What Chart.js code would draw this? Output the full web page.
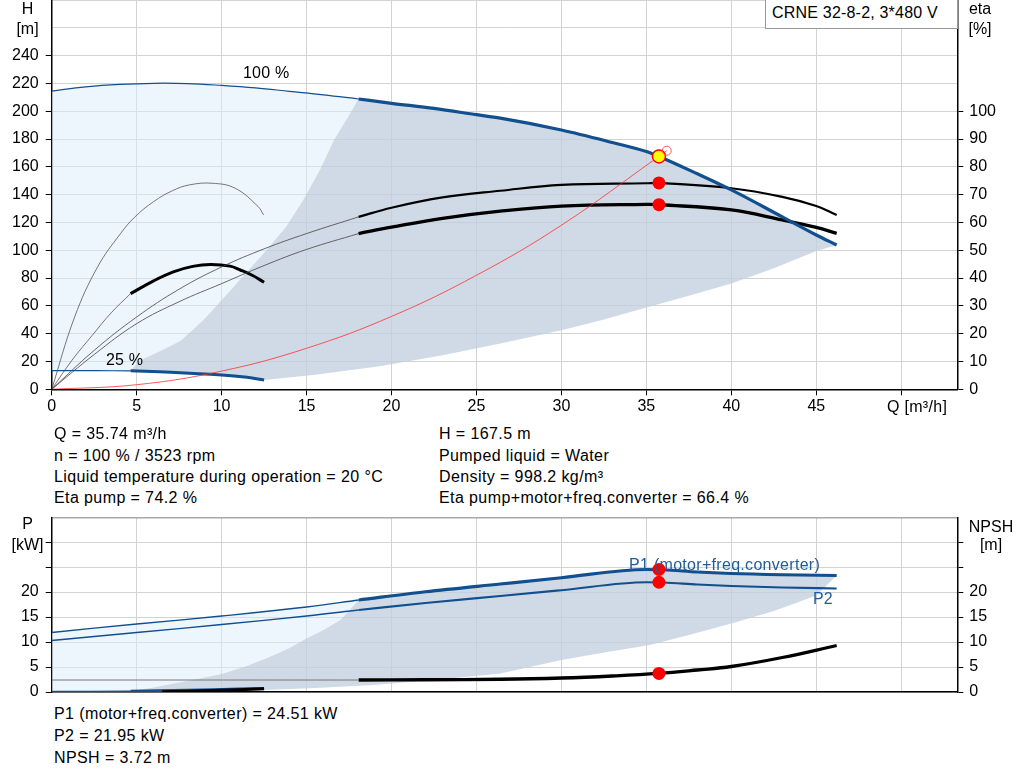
<!DOCTYPE html>
<html>
<head>
<meta charset="utf-8">
<script src="https://cdn.jsdelivr.net/npm/chart.js@4.4.1/dist/chart.umd.min.js"></script>
<style>
  body { margin: 0; background: #fff; width: 1024px; height: 781px; overflow: hidden; position: relative; font-family: Arial, "Liberation Sans", sans-serif; }
  .t { position: absolute; font-size: 16px; line-height: 16px; white-space: nowrap; color: #000; letter-spacing: 0.4px; }
  .c { transform: translateX(-50%); letter-spacing: 0; }
  #top, #bot { position: absolute; left: 0; }
  #top { top: 0; }
  #bot { top: 517px; }
  .box { position: absolute; left: 765px; top: -1px; width: 191px; height: 28px; border: 1px solid #999; background: #fff; }
</style>
</head>
<body>
<canvas id="top" width="1024" height="421"></canvas>
<canvas id="bot" width="1024" height="183"></canvas>

<div class="box"></div>
<div class="t" style="left:772px;top:5px;letter-spacing:0.2px">CRNE 32-8-2, 3*480 V</div>

<div class="t c" style="left:27.5px;top:1px">H</div>
<div class="t c" style="left:27.5px;top:21px">[m]</div>
<div class="t c" style="left:980px;top:1px">eta</div>
<div class="t c" style="left:980px;top:21px">[%]</div>
<div class="t" style="left:243px;top:65px;letter-spacing:0.2px">100 %</div>
<div class="t" style="left:106px;top:352px;letter-spacing:0.2px">25 %</div>
<div class="t" style="left:887px;top:399px;letter-spacing:0.3px">Q [m³/h]</div>

<div class="t" style="left:54px;top:426px">Q = 35.74 m³/h</div>
<div class="t" style="left:54px;top:448px">n = 100 % / 3523 rpm</div>
<div class="t" style="left:54px;top:469px">Liquid temperature during operation = 20 °C</div>
<div class="t" style="left:54px;top:490px">Eta pump = 74.2 %</div>
<div class="t" style="left:439px;top:426px">H = 167.5 m</div>
<div class="t" style="left:439px;top:448px">Pumped liquid = Water</div>
<div class="t" style="left:439px;top:469px">Density = 998.2 kg/m³</div>
<div class="t" style="left:439px;top:490px">Eta pump+motor+freq.converter = 66.4 %</div>

<div class="t c" style="left:27.5px;top:516px">P</div>
<div class="t c" style="left:27.5px;top:537px">[kW]</div>
<div class="t c" style="left:991px;top:519px">NPSH</div>
<div class="t c" style="left:991px;top:537px">[m]</div>
<div class="t" style="left:629px;top:557px;color:#1f5c9c;letter-spacing:0.3px">P1 (motor+freq.converter)</div>
<div class="t" style="left:813px;top:591px;color:#1f5c9c;letter-spacing:0.2px">P2</div>

<div class="t" style="left:54px;top:706px">P1 (motor+freq.converter) = 24.51 kW</div>
<div class="t" style="left:54px;top:728px">P2 = 21.95 kW</div>
<div class="t" style="left:54px;top:750px">NPSH = 3.72 m</div>

<script>
// ---- top diagram: Q-H at 100 % and 25 % speed ----
const q100Thin = [0, 2, 4, 6, 8, 10, 12, 14, 16, 18.06];
const h100Thin = [214.5, 217.5, 219.3, 220.1, 219.9, 218.6, 216.8, 214.3, 211.8, 208.8];
const q100 = [18.06, 20, 22.5, 25, 26.4, 30, 33, 35, 35.74, 38, 40, 43, 45, 46.2];
const h100 = [208.8, 205.7, 202, 197.5, 195, 186.5, 177.5, 171, 167.5, 155, 143.4, 124, 111, 103.8];

const q25Thin = [0, 2.5, 4.64];
const h25Thin = [13.4, 13.4, 13.3];
const q25 = [4.64, 7, 10, 11.5, 12.5];
const h25 = [13.3, 12.3, 10.3, 8.6, 6.7];

// edges of the recommended (dark) area
const qEdgeLeft = [4.64, 5.2, 6.5, 7.6, 8.95, 10, 11.1, 12.6, 13.8, 14.8, 15.8, 16.6, 17.4, 18.06];
const hEdgeLeft = [13.3, 20.8, 28, 35, 50, 64, 79, 99.5, 117, 136, 158, 179, 195, 208.8];
const qEdgeLow = [12.5, 15.5, 19.3, 23, 26.4, 30, 32.5, 35, 37.5, 40, 42.5, 45, 46.2];
const hEdgeLow = [6.7, 10.5, 16.5, 24.5, 33, 42.4, 50.2, 58.9, 67.2, 76.1, 87, 99.5, 103.8];

// system curve
const qSys = [0, 5, 10, 15, 20, 25, 30, 35.74, 36.2];
const hSys = [0, 3.3, 13.1, 29.5, 52.4, 82, 118, 167.5, 171.6];

// efficiency, 100 % speed
const qEtaThin = [0, 2.5, 5, 7.5, 10, 12.5, 15, 18.06];
const etaPumpThin = [0, 14, 26, 36, 44, 50.5, 56, 62];
const etaTotThin = [0, 12.5, 23.6, 31.5, 38, 44.5, 50.3, 56];
const qEta = [18.06, 20, 23, 26.4, 30, 35, 35.74, 40, 43, 45, 46.2];
const etaPump = [62, 65.3, 69, 71.4, 73.5, 74.1, 74.2, 72.3, 69.2, 65.9, 62.7];
const etaTot = [56, 58.3, 61.5, 64.1, 65.9, 66.5, 66.4, 64.5, 60.9, 58.2, 56.1];

// efficiency, 25 % speed
const qEtaLow = [0, 1.35, 2.7, 4.05, 4.9, 6, 7.1, 8.1, 9.45, 10.8, 12.15, 12.47];
const etaPumpLow = [0, 26, 44, 56, 62, 67.5, 71.4, 73.5, 74.1, 72.3, 65.7, 62.7];
const qEtaTotLowThin = [0, 1.2, 2.4, 3.5, 4.64];
const etaTotLowThin = [0, 10.5, 19.5, 27.5, 34.4];
const qEtaTotLow = [4.64, 6, 7.2, 8.3, 9.34, 10.5, 11.1, 11.8, 12.5];
const etaTotLow = [34.4, 39, 42.3, 44.2, 44.9, 44.3, 42.9, 41, 38.5];

// duty point
const dutyQ = 35.74, dutyH = 167.5, dutyEtaPump = 74.2, dutyEtaTot = 66.4;

// ---- bottom diagram: power and NPSH ----
const qPThin = [0, 5, 10, 15, 18.07];
const p1Thin = [11.9, 13.6, 15.2, 17.0, 18.4];
const p2Thin = [10.3, 11.9, 13.5, 15.2, 16.4];
const qP = [18.07, 22, 26.4, 30, 35, 36, 38, 40, 43, 46.2];
const p1 = [18.4, 20.05, 21.6, 22.85, 24.5, 24.45, 24.0, 23.7, 23.45, 23.3];
const p2 = [16.4, 17.8, 19.2, 20.35, 21.95, 21.9, 21.5, 21.2, 20.9, 20.7];

const qNpshThin = [0, 18.07];
const npshThin = [2.4, 2.4];
const qNpsh = [18.07, 22, 26.4, 30, 33, 35.74, 38, 40, 43, 46.2];
const npsh = [2.4, 2.45, 2.55, 2.8, 3.2, 3.72, 4.4, 5.1, 6.9, 9.3];

const qPLowThin = [0, 4.64];
const pLowThin = [0.1, 0.15];
const qPLow = [4.64, 8, 11, 12.5];
const pLow = [0.15, 0.35, 0.6, 0.7];
const qPLowBlack = [6.5, 9.5, 12.5];
const pLowBlack = [0.05, 0.3, 0.65];

const qPEdgeLeft = [4.64, 6, 7.2, 8.6, 10, 11.5, 12.9, 14, 15, 16, 17, 18.07];
const pEdgeLeft = [0.15, 0.9, 1.7, 2.6, 3.6, 5.2, 7.1, 8.8, 10.7, 12.4, 14.4, 18.4];
const qPEdgeLow = [12.5, 15.5, 18.9, 22.5, 26.4, 30, 32.5, 35.2, 37.5, 40, 42.5, 45, 46.2];
const pEdgeLow = [0.4, 0.8, 1.4, 2.4, 3.7, 6.4, 7.9, 9.4, 11.4, 13.7, 16.2, 19.3, 23.3];

const dutyP1 = 24.51, dutyP2 = 21.95, dutyNpsh = 3.72;

// tick labels shown
const hTickMax = 240, etaTickMax = 100, qTickMax = 45, pTickMax = 20;

const BLUE = '#114f8e';
const LIGHT = 'rgba(221,237,251,0.5)';
const DARK = 'rgba(178,192,207,0.5)';
const GRID = '#d3d3d3';

function pts(xs, ys) {
    return xs.map((x, i) => ({x: x, y: ys[i]}));
}
function rev(xs, ys) {
    return pts(xs, ys).reverse();
}
// smooth curve (kinked = keep corners, monotone spline)
function line(data, color, width, axis, kinked) {
    const ds = {
        data: data, borderColor: color, borderWidth: width, pointRadius: 0,
        fill: false, tension: 0.4, yAxisID: axis || 'y'
    };
    if (kinked) ds.cubicInterpolationMode = 'monotone';
    return ds;
}
function area(data, color) {
    return {
        data: data, backgroundColor: color, borderColor: 'rgba(0,0,0,0)', borderWidth: 0,
        pointRadius: 0, fill: 'shape', tension: 0, yAxisID: 'y'
    };
}
function dot(x, y, axis, bg, border, r, bw) {
    return {
        data: [{x: x, y: y}], showLine: false, pointRadius: r, pointHoverRadius: r,
        pointBackgroundColor: bg, pointBorderColor: border, pointBorderWidth: bw, yAxisID: axis
    };
}
function hiddenTick(limit) {
    return ctx => (ctx.tick && ctx.tick.value > limit) ? 'rgba(0,0,0,0)' : '#000';
}

Chart.defaults.font.family = 'Arial, "Liberation Sans", sans-serif';
Chart.defaults.font.size = 16;
Chart.defaults.color = '#000';

// polygons for the shaded areas
const lightTop = pts(q100Thin, h100Thin).concat(pts(q100, h100), rev(qEdgeLow, hEdgeLow), rev(q25, h25), rev(q25Thin, h25Thin));
const darkTop = pts(q100, h100).concat(rev(qEdgeLow, hEdgeLow), rev(q25, h25), pts(qEdgeLeft, hEdgeLeft));
const lightBot = pts(qPThin, p1Thin).concat(pts(qP, p1), rev(qPEdgeLow, pEdgeLow), [{x: 0, y: 0}]);
const darkBot = pts(qP, p1).concat(rev(qPEdgeLow, pEdgeLow), pts(qPEdgeLeft, pEdgeLeft));

function fitY(w) {
    return s => { s.width = w; s.paddingTop = 0; s.paddingBottom = 0; };
}
function fitX(h) {
    return s => { s.height = h; s.paddingLeft = 0; s.paddingRight = 0; };
}

new Chart(document.getElementById('top'), {
    type: 'line',
    data: {
        datasets: [
            dot(36.2, 171.6, 'y', 'rgba(0,0,0,0)', '#ff5a5a', 4.5, 1),
            dot(dutyQ, dutyH, 'y', '#ffff00', '#ff0000', 6.5, 1.5),
            dot(dutyQ, dutyEtaPump, 'y2', '#ff0000', '#ff0000', 6.5, 0),
            dot(dutyQ, dutyEtaTot, 'y2', '#ff0000', '#ff0000', 6.5, 0),
            line(pts(qSys, hSys), '#ff3030', 0.8),
            line(pts(q100, h100), BLUE, 3.2, 'y', true),
            line(pts(q100Thin, h100Thin), BLUE, 1.2),
            line(pts(q25, h25), BLUE, 3),
            line(pts(q25Thin, h25Thin), BLUE, 1.2),
            line(pts(qEta, etaPump), '#000', 2.2, 'y2'),
            line(pts(qEta, etaTot), '#000', 3.3, 'y2'),
            line(pts(qEtaThin, etaPumpThin), '#444', 0.8, 'y2'),
            line(pts(qEtaThin, etaTotThin), '#444', 0.8, 'y2'),
            line(pts(qEtaLow, etaPumpLow), '#555', 0.8, 'y2'),
            line(pts(qEtaTotLow, etaTotLow), '#000', 3, 'y2'),
            line(pts(qEtaTotLowThin, etaTotLowThin), '#555', 0.8, 'y2'),
            area(darkTop, DARK),
            area(lightTop, LIGHT)
        ]
    },
    options: {
        responsive: false,
        animation: false,
        events: [],
        layout: { padding: 0, autoPadding: false },
        plugins: { legend: { display: false }, tooltip: { enabled: false } },
        scales: {
            x: {
                type: 'linear', min: 0, max: 53.3,
                ticks: { stepSize: 5, autoSkip: false, maxRotation: 0, includeBounds: false, padding: 2,
                    callback: v => v <= qTickMax ? v : '' },
                grid: { color: GRID, tickColor: '#000', tickLength: 6 },
                border: { color: '#000', width: 1.5 },
                afterFit: fitX(31.7)
            },
            y: {
                min: 0, max: 280,
                ticks: { stepSize: 20, autoSkip: false, padding: 7, callback: v => v <= hTickMax ? v : '' },
                grid: { color: GRID, tickColor: hiddenTick(hTickMax), tickLength: 6 },
                border: { color: '#000', width: 1.5 },
                afterFit: fitY(51.7)
            },
            y2: {
                position: 'right', min: 0, max: 140,
                ticks: { stepSize: 10, autoSkip: false, padding: 6, callback: v => v <= etaTickMax ? v : '' },
                grid: { drawOnChartArea: false, tickColor: hiddenTick(etaTickMax), tickLength: 6 },
                border: { color: '#000', width: 1.5 },
                afterFit: fitY(66.7)
            }
        }
    }
});

new Chart(document.getElementById('bot'), {
    type: 'line',
    data: {
        datasets: [
            dot(dutyQ, dutyP1, 'y', '#ff0000', '#ff0000', 6.5, 0),
            dot(dutyQ, dutyP2, 'y', '#ff0000', '#ff0000', 6.5, 0),
            dot(dutyQ, dutyNpsh, 'y2', '#ff0000', '#ff0000', 6.5, 0),
            line(pts(qP, p1), BLUE, 3.2, 'y', true),
            line(pts(qP, p2), BLUE, 2.2, 'y', true),
            line(pts(qPThin, p1Thin), BLUE, 1.3),
            line(pts(qPThin, p2Thin), BLUE, 1.3),
            line(pts(qNpsh, npsh), '#000', 3.3, 'y2'),
            line(pts(qNpshThin, npshThin), '#777', 1, 'y2'),
            line(pts(qPLowBlack, pLowBlack), '#000', 3),
            line(pts(qPLow, pLow), BLUE, 3),
            line(pts(qPLowThin, pLowThin), BLUE, 1.3),
            area(darkBot, DARK),
            area(lightBot, LIGHT)
        ]
    },
    options: {
        responsive: false,
        animation: false,
        events: [],
        layout: { padding: 0, autoPadding: false },
        plugins: { legend: { display: false }, tooltip: { enabled: false } },
        scales: {
            x: {
                type: 'linear', min: 0, max: 53.3,
                ticks: { stepSize: 5, display: false, includeBounds: false },
                grid: { color: GRID, drawTicks: false },
                border: { color: '#000', width: 1.5 },
                afterFit: fitX(8)
            },
            y: {
                min: 0, max: 35,
                ticks: { stepSize: 5, autoSkip: false, padding: 7, callback: v => v <= pTickMax ? v : '' },
                grid: {
                    color: ctx => (ctx.tick && ctx.tick.value === 35) ? '#a8a8a8' : GRID,
                    lineWidth: ctx => (ctx.tick && ctx.tick.value === 35) ? 2.5 : 1,
                    tickColor: hiddenTick(30), tickLength: 6
                },
                border: { color: '#000', width: 1.5 },
                afterFit: fitY(51.7)
            },
            y2: {
                position: 'right', min: 0, max: 35,
                ticks: { stepSize: 5, autoSkip: false, padding: 6, callback: v => v <= pTickMax ? v : '' },
                grid: { drawOnChartArea: false, tickColor: hiddenTick(30), tickLength: 6 },
                border: { color: '#000', width: 1.5 },
                afterFit: fitY(66.7)
            }
        }
    }
});
</script>
</body>
</html>
